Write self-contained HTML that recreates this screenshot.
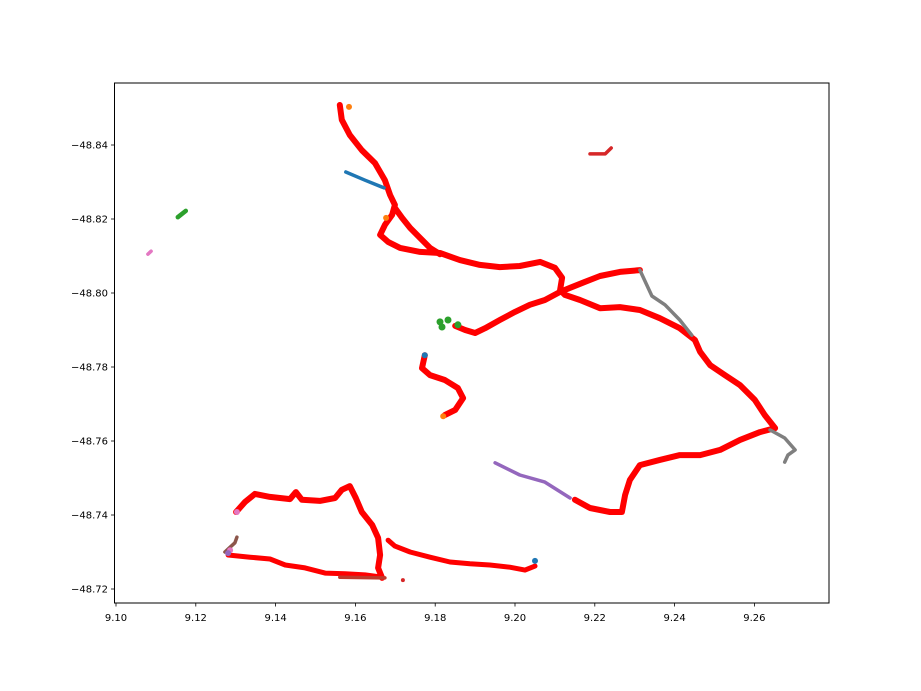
<!DOCTYPE html>
<html><head><meta charset="utf-8"><style>
html,body{margin:0;padding:0;background:#fff;}
svg{display:block;font-family:"DejaVu Sans","Liberation Sans",sans-serif;}
</style></head><body>
<svg id="chart" width="921" height="691" viewBox="0 0 921 691" xmlns="http://www.w3.org/2000/svg">
<rect x="0" y="0" width="921" height="691" fill="#fff"/>
<g id="marks"></g>
<rect x="114.5" y="83" width="714.5" height="520" fill="none" stroke="#000" stroke-width="1"/>
<g id="xaxis"></g>
<g id="yaxis"></g>
</svg>
<script>
const xTicks = [9.10, 9.12, 9.14, 9.16, 9.18, 9.20, 9.22, 9.24, 9.26];
const xTickLabels = ["9.10","9.12","9.14","9.16","9.18","9.20","9.22","9.24","9.26"];
const yTicks = [-48.84, -48.82, -48.80, -48.78, -48.76, -48.74, -48.72];
const yTickLabels = ["\u221248.84","\u221248.82","\u221248.80","\u221248.78","\u221248.76","\u221248.74","\u221248.72"];

const trackA_x = [9.1561,9.1566,9.1586,9.1616,9.1649,9.1674,9.1687,9.1699,9.1692,9.1674,9.1662,9.1682,9.1712,9.1762,9.1812,9.1862,9.1912,9.1962,9.2012,9.2063,9.2100,9.2118,9.2113,9.2125,9.2163,9.2213,9.2263,9.2313,9.2363,9.2413,9.2451,9.2464,9.2489,9.2526,9.2564,9.2601,9.2626,9.2652,9.2614,9.2564,9.2514,9.2464,9.2413,9.2363,9.2313,9.2288,9.2276,9.2268,9.2238,9.2188,9.2150];
const trackA_y = [-48.8508,-48.8468,-48.8427,-48.8386,-48.8351,-48.8305,-48.8265,-48.8238,-48.8211,-48.8184,-48.8157,-48.8138,-48.8122,-48.8111,-48.8108,-48.8089,-48.8076,-48.8070,-48.8073,-48.8084,-48.8068,-48.8041,-48.8008,-48.7995,-48.7981,-48.7959,-48.7962,-48.7954,-48.7932,-48.7905,-48.7873,-48.7841,-48.7805,-48.7778,-48.7751,-48.7711,-48.7670,-48.7635,-48.7624,-48.7603,-48.7576,-48.7562,-48.7562,-48.7549,-48.7535,-48.7495,-48.7454,-48.7408,-48.7408,-48.7419,-48.7441];
const trackB_x = [9.2313,9.2263,9.2213,9.2175,9.2138,9.2113,9.2075,9.2037,9.2000,9.1962,9.1925,9.1900,9.1875,9.1850];
const trackB_y = [-48.8062,-48.8057,-48.8046,-48.8030,-48.8014,-48.8003,-48.7981,-48.7968,-48.7949,-48.7927,-48.7905,-48.7892,-48.7900,-48.7911];
const trackC_x = [9.1699,9.1717,9.1737,9.1762,9.1787,9.1812];
const trackC_y = [-48.8230,-48.8203,-48.8176,-48.8149,-48.8122,-48.8105];
const trackD_x = [9.1774,9.1767,9.1787,9.1824,9.1857,9.1870,9.1850,9.1824];
const trackD_y = [-48.7832,-48.7797,-48.7778,-48.7765,-48.7743,-48.7716,-48.7684,-48.7670];
const trackE_x = [9.1301,9.1323,9.1348,9.1386,9.1436,9.1451,9.1466,9.1511,9.1549,9.1566,9.1586,9.1601,9.1616,9.1642,9.1657,9.1662,9.1657,9.1667];
const trackE_y = [-48.7408,-48.7435,-48.7457,-48.7449,-48.7443,-48.7462,-48.7441,-48.7438,-48.7446,-48.7468,-48.7478,-48.7446,-48.7408,-48.7373,-48.7338,-48.7292,-48.7257,-48.7230];
const trackF_x = [9.1281,9.1336,9.1386,9.1424,9.1474,9.1524,9.1574,9.1624,9.1667];
const trackF_y = [-48.7292,-48.7286,-48.7281,-48.7265,-48.7257,-48.7243,-48.7241,-48.7238,-48.7232];
const trackG_x = [9.1682,9.1699,9.1737,9.1787,9.1837,9.1887,9.1937,9.1987,9.2025,9.2050];
const trackG_y = [-48.7332,-48.7316,-48.7300,-48.7286,-48.7273,-48.7268,-48.7265,-48.7259,-48.7251,-48.7262];

const blue_x = [9.1576,9.1624,9.1672];
const blue_y = [-48.8327,-48.8305,-48.8284];
const greenA_x = [9.1155,9.1175];
const greenA_y = [-48.8205,-48.8222];
const pinkA_x = [9.1080,9.1088];
const pinkA_y = [-48.8105,-48.8113];
const grayA_x = [9.2313,9.2343,9.2376,9.2413,9.2443];
const grayA_y = [-48.8062,-48.7992,-48.7968,-48.7927,-48.7886];
const grayB_x = [9.2639,9.2676,9.2702,9.2684,9.2676];
const grayB_y = [-48.7630,-48.7608,-48.7576,-48.7562,-48.7543];
const purple_x = [9.1950,9.2012,9.2075,9.2138];
const purple_y = [-48.7541,-48.7508,-48.7489,-48.7446];
const brownA_x = [9.1273,9.1285,9.1298,9.1303];
const brownA_y = [-48.7300,-48.7312,-48.7325,-48.7340];
const brownB_x = [9.1561,9.1674];
const brownB_y = [-48.7232,-48.7230];
const darkred_x = [9.2188,9.2226,9.2241];
const darkred_y = [-48.8376,-48.8376,-48.8392];

const blueDots_x = [9.1774,9.2050];
const blueDots_y = [-48.7832,-48.7276];
const greenDots_x = [9.1812,9.1832,9.1857,9.1817];
const greenDots_y = [-48.7922,-48.7927,-48.7914,-48.7908];
const pinkDots_x = [9.1303,9.1286];
const pinkDots_y = [-48.7408,-48.7305];
const purpleDots_x = [9.1281];
const purpleDots_y = [-48.7297];
const brownDots_x = [9.1719];
const brownDots_y = [-48.7224];
const orangeDots_x = [9.1584,9.1677,9.1820];
const orangeDots_y = [-48.8503,-48.8203,-48.7667];

const NS = "http://www.w3.org/2000/svg";
const X0 = 116, XS = 3990, Y0 = 145, YS = 3700;
function sx(v){ return X0 + (v - 9.10) * XS; }
function sy(v){ return Y0 + (v + 48.84) * YS; }

const marks = document.getElementById('marks');
function track(xs, ys, color, w, name){
  const p = document.createElementNS(NS,'polyline');
  p.setAttribute('points', xs.map((v,i)=>sx(v).toFixed(1)+','+sy(ys[i]).toFixed(1)).join(' '));
  p.setAttribute('fill','none');
  p.setAttribute('stroke',color);
  p.setAttribute('stroke-width',w);
  p.setAttribute('stroke-linecap','round');
  p.setAttribute('stroke-linejoin','round');
  
  
  marks.appendChild(p);
}
function dots(xs, ys, color, r, name){
  xs.forEach((v,i)=>{
    const c = document.createElementNS(NS,'circle');
    c.setAttribute('cx', sx(v).toFixed(1));
    c.setAttribute('cy', sy(ys[i]).toFixed(1));
    c.setAttribute('r', r);
    c.setAttribute('fill', color);
    
    
    marks.appendChild(c);
  });
}
const RED = '#ff0000';
track(trackA_x, trackA_y, RED, 6, 'red-track-main');
track(trackB_x, trackB_y, RED, 6, 'red-track-branch');
track(trackC_x, trackC_y, RED, 6, 'red-track-connector');
track(trackD_x, trackD_y, RED, 6, 'red-track-middle');
track(trackE_x, trackE_y, RED, 6, 'red-track-south-loop');
track(trackF_x, trackF_y, RED, 5, 'red-track-south-west');
track(trackG_x, trackG_y, RED, 5, 'red-track-south-east');
track(blue_x, blue_y, '#1f77b4', 3.5, 'blue-track');
track(greenA_x, greenA_y, '#2ca02c', 4.5, 'green-track');
track(pinkA_x, pinkA_y, '#e377c2', 3.5, 'pink-track');
track(grayA_x, grayA_y, '#7f7f7f', 3.5, 'gray-track-north');
track(grayB_x, grayB_y, '#7f7f7f', 3.5, 'gray-track-east');
track(purple_x, purple_y, '#9467bd', 3.5, 'purple-track');
track(brownA_x, brownA_y, '#8c564b', 3.5, 'brown-track-west');
track(brownB_x, brownB_y, '#c0392b', 3.5, 'brown-track-south');
track(darkred_x, darkred_y, '#d62728', 3.5, 'darkred-track');
dots(blueDots_x, blueDots_y, '#1f77b4', 3, 'blue-point');
dots(greenDots_x, greenDots_y, '#2ca02c', 3.5, 'green-point');
dots(pinkDots_x, pinkDots_y, '#e377c2', 3, 'pink-point');
dots(purpleDots_x, purpleDots_y, '#9467bd', 3, 'purple-point');
dots(brownDots_x, brownDots_y, '#d62728', 2, 'brown-point');
dots(orangeDots_x, orangeDots_y, '#ff7f0e', 3, 'orange-point');

const xa = document.getElementById('xaxis');
xTicks.forEach((t,i)=>{
  const x = sx(t);
  const l = document.createElementNS(NS,'line');
  l.setAttribute('x1',x); l.setAttribute('x2',x); l.setAttribute('y1',603); l.setAttribute('y2',606.5);
  l.setAttribute('stroke','#000'); l.setAttribute('stroke-width','0.8');
  
  
  xa.appendChild(l);
  const tx = document.createElementNS(NS,'text');
  tx.setAttribute('x',x); tx.setAttribute('y',621);
  tx.setAttribute('text-anchor','middle'); tx.setAttribute('font-size','10');
  tx.textContent = xTickLabels[i];
  
  
  xa.appendChild(tx);
});
const ya = document.getElementById('yaxis');
yTicks.forEach((t,i)=>{
  const y = sy(t);
  const l = document.createElementNS(NS,'line');
  l.setAttribute('x1',111); l.setAttribute('x2',114.5); l.setAttribute('y1',y); l.setAttribute('y2',y);
  l.setAttribute('stroke','#000'); l.setAttribute('stroke-width','0.8');
  
  
  ya.appendChild(l);
  const tx = document.createElementNS(NS,'text');
  tx.setAttribute('x',108); tx.setAttribute('y',y+3.5);
  tx.setAttribute('text-anchor','end'); tx.setAttribute('font-size','10');
  tx.textContent = yTickLabels[i];
  
  
  ya.appendChild(tx);
});
</script>
</body></html>
